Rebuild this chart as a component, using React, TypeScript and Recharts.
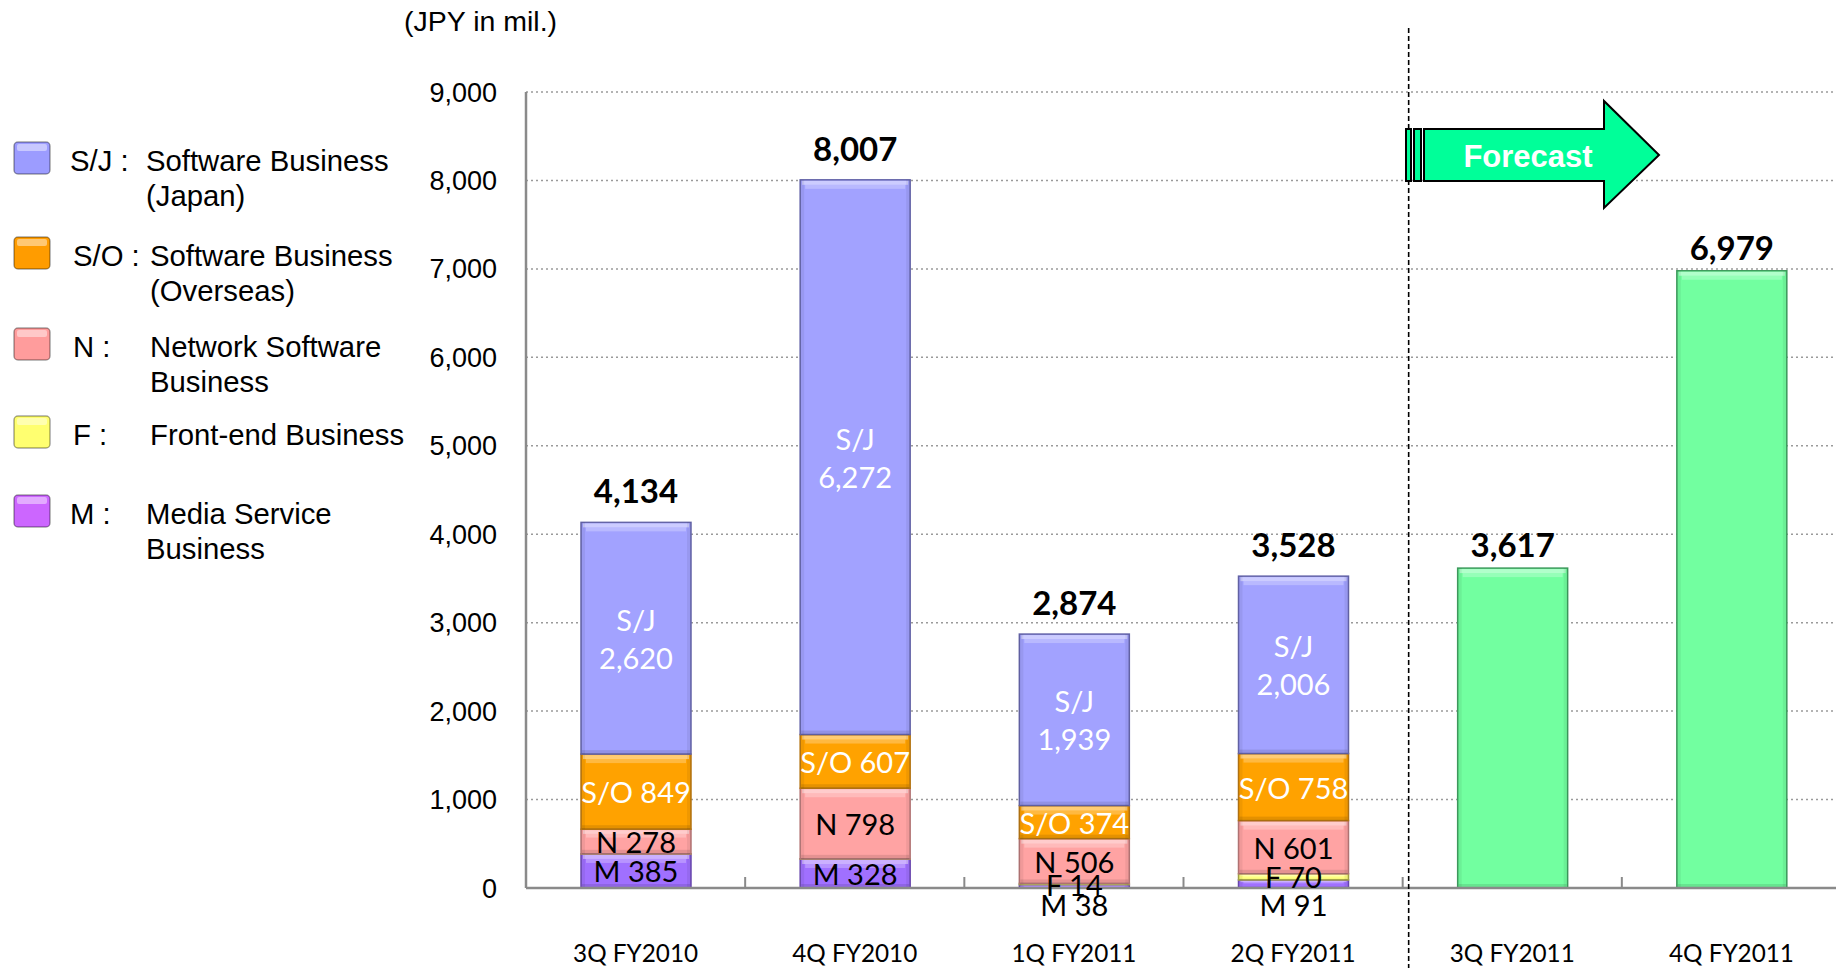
import React from "react";
import { Bar, BarChart, CartesianGrid, LabelList, XAxis, YAxis } from "recharts";

const categories = ["3Q FY2010", "4Q FY2010", "1Q FY2011", "2Q FY2011", "3Q FY2011", "4Q FY2011"];
const mediaService = [385, 328, 38, 91, null, null];
const frontEnd = [2, 2, 14, 70, null, null];
const network = [278, 798, 506, 601, null, null];
const softwareOverseas = [849, 607, 374, 758, null, null];
const softwareJapan = [2620, 6272, 1939, 2006, null, null];
const totals = [4134, 8007, 2874, 3528, null, null];
const forecast = [null, null, null, null, 3617, 6979];
const yTicks = [0, 1000, 2000, 3000, 4000, 5000, 6000, 7000, 8000, 9000];

const legendCodes = ["S/J :", "S/O :", "N :", "F :", "M :"];
const legendNames = [
  ["Software Business", "(Japan)"],
  ["Software Business", "(Overseas)"],
  ["Network Software", "Business"],
  ["Front-end Business"],
  ["Media Service", "Business"],
];

const chartData = categories.map((quarter, i) => ({
  quarter,
  m: mediaService[i],
  f: frontEnd[i],
  n: network[i],
  so: softwareOverseas[i],
  sj: softwareJapan[i],
  forecast: forecast[i],
}));

const W = 1836;
const H = 968;
const PLOT_LEFT = 526;
const PLOT_RIGHT_OVERFLOW = 5;
const PLOT_TOP = 92;
const X_AXIS_H = 80;
const PLOT_BOTTOM = H - X_AXIS_H;
const BAND = (W + PLOT_RIGHT_OVERFLOW - PLOT_LEFT) / categories.length;

const ARIAL = "'Liberation Sans', Arial, sans-serif";
const CALIBRI = "Lato, 'Noto Sans', sans-serif";

const COLORS = {
  sj: { fill: "#a2a2ff", stroke: "#6464a8" },
  so: { fill: "#ffa200", stroke: "#b47412" },
  n: { fill: "#ffa3a3", stroke: "#b47676" },
  f: { fill: "#ffff80", stroke: "#a6a646" },
  m: { fill: "#a070ff", stroke: "#6a48b0" },
  forecast: { fill: "#72ffa0", stroke: "#3f9c5e" },
};

const LEGEND_COLORS = ["#9c9cff", "#ff9c00", "#ff9c9c", "#ffff70", "#cc66ff"];

const fmt = (v: number) => v.toLocaleString("en-US");

function bevelShape(fill: string, stroke: string) {
  return (p: any) => {
    const { x, y, width, height } = p;
    if (!height || height <= 0) return <g />;
    const hl = Math.min(8, height * 0.3);
    const sh = Math.min(4, height * 0.2);
    return (
      <g>
        <rect x={x} y={y} width={width} height={height} fill={fill} stroke={stroke} strokeWidth={1.5} />
        <rect x={x + 2} y={y + 1} width={width - 4} height={hl * 0.5} fill="#ffffff" opacity={0.45} />
        <rect x={x + 5} y={y + 1 + hl * 0.5} width={width - 10} height={hl * 0.5} fill="#ffffff" opacity={0.25} />
        <rect x={x + 1} y={y + height - sh} width={width - 2} height={sh} fill="#000000" opacity={0.1} />
        <rect x={x} y={y} width={4} height={height} fill="#000000" opacity={0.06} />
        <rect x={x + width - 4} y={y} width={4} height={height} fill="#000000" opacity={0.06} />
      </g>
    );
  };
}

const labelText = (x: number, y: number, text: string, color: string, size = 29, bold = false) => (
  <text
    x={x}
    y={y}
    textAnchor="middle"
    dominantBaseline="central"
    fill={color}
    fontFamily={CALIBRI}
    fontSize={size}
    fontWeight={bold ? 700 : 400}
  >
    {text}
  </text>
);

function segmentLabel(prefix: string, color: string, minValue = 0) {
  return (p: any) => {
    const { x, y, width, height, value } = p;
    if (value == null || value < minValue) return null;
    return labelText(x + width / 2, y + height / 2, `${prefix} ${fmt(value)}`, color);
  };
}

const mediaLabel = (p: any) => {
  const { x, y, width, height, value } = p;
  if (value == null) return null;
  const cy = height < 20 ? y + height + 16 : y + height / 2;
  return labelText(x + width / 2, cy, `M ${fmt(value)}`, "#000");
};

const japanLabel = (p: any) => {
  const { x, y, width, height, value, index } = p;
  if (value == null) return null;
  const cx = x + width / 2;
  const cy = y + height / 2;
  return (
    <g>
      {labelText(cx, cy - 19, "S/J", "#fff")}
      {labelText(cx, cy + 19, fmt(value), "#fff")}
      {totals[index] != null && labelText(cx, y - 32, fmt(totals[index] as number), "#000", 33, true)}
    </g>
  );
};

const forecastLabel = (p: any) => {
  const { x, y, width, value } = p;
  if (value == null) return null;
  return labelText(x + width / 2, y - 24, fmt(value), "#000", 33, true);
};

function Overlay() {
  const sepX = PLOT_LEFT + BAND * 4 + 6;
  const rowY = [158, 253, 344, 432, 511];
  const codeX = [70, 73, 73, 73, 70];
  const nameX = [146, 150, 150, 150, 146];
  return (
    <svg width={W} height={H} style={{ position: "absolute", left: 0, top: 0, pointerEvents: "none" }}>
      <text x={404} y={21} dominantBaseline="central" fontFamily={ARIAL} fontSize={28.5} fill="#000">
        (JPY in mil.)
      </text>
      {legendCodes.map((code, i) => (
        <g key={code}>
          <rect x={14} y={rowY[i] - 16} width={36} height={32} rx={4} fill={LEGEND_COLORS[i]} stroke="rgba(0,0,0,0.35)" strokeWidth={1.5} />
          <rect x={17} y={rowY[i] - 14} width={30} height={7} rx={2} fill="#fff" opacity={0.45} />
          <text x={codeX[i]} y={rowY[i] + 2} dominantBaseline="central" fontFamily={ARIAL} fontSize={29.3} fill="#000">
            {code}
          </text>
          {legendNames[i].map((line, j) => (
            <text
              key={line}
              x={nameX[i]}
              y={rowY[i] + 2 + j * 35}
              dominantBaseline="central"
              fontFamily={ARIAL}
              fontSize={29.3}
              fill="#000"
            >
              {line}
            </text>
          ))}
        </g>
      ))}
      {[1, 2, 3, 4, 5].map((i) => (
        <line key={i} x1={PLOT_LEFT + BAND * i} x2={PLOT_LEFT + BAND * i} y1={PLOT_BOTTOM} y2={PLOT_BOTTOM - 11} stroke="#8a8a8a" strokeWidth={2} />
      ))}
      <line x1={sepX} x2={sepX} y1={28} y2={H} stroke="#000" strokeWidth={1.6} strokeDasharray="5 3" />
      <rect x={1406} y={129} width={5} height={52} fill="#00ff99" stroke="#000" strokeWidth={2} />
      <rect x={1414} y={129} width={7} height={52} fill="#00ff99" stroke="#000" strokeWidth={2} />
      <polygon
        points="1424,129 1604,129 1604,101 1659,155 1604,208 1604,181 1424,181"
        fill="#00ff99"
        stroke="#000"
        strokeWidth={2}
        strokeLinejoin="miter"
      />
      <text x={1528} y={156} textAnchor="middle" dominantBaseline="central" fontFamily={ARIAL} fontSize={31} fontWeight={700} fill="#fff">
        Forecast
      </text>
    </svg>
  );
}

export default function App() {
  return (
    <div style={{ position: "relative", width: W, height: H, background: "#fff", overflow: "hidden" }}>
      <style>{"body{margin:0}"}</style>
      <BarChart
        width={W}
        height={H}
        data={chartData}
        margin={{ top: PLOT_TOP, right: -PLOT_RIGHT_OVERFLOW, left: PLOT_LEFT - 80, bottom: 0 }}
      >
        <CartesianGrid vertical={false} stroke="#9a9a9a" strokeDasharray="2 3" strokeWidth={1.5} />
        <XAxis
          dataKey="quarter"
          height={X_AXIS_H}
          tickLine={false}
          tickSize={0}
          tickMargin={57}
          axisLine={{ stroke: "#8a8a8a", strokeWidth: 2.5 }}
          tick={{ fill: "#000", fontSize: 24.3, fontFamily: CALIBRI }}
          interval={0}
        />
        <YAxis
          width={80}
          domain={[0, 9000]}
          ticks={yTicks}
          tickFormatter={(v) => fmt(v)}
          tickLine={false}
          tickSize={0}
          tickMargin={29}
          axisLine={{ stroke: "#8a8a8a", strokeWidth: 2.5 }}
          tick={{ fill: "#000", fontSize: 27, fontFamily: ARIAL }}
          allowDataOverflow
        />
        <Bar dataKey="m" stackId="a" barSize={110} isAnimationActive={false} shape={bevelShape(COLORS.m.fill, COLORS.m.stroke)}>
          <LabelList dataKey="m" content={mediaLabel} />
        </Bar>
        <Bar dataKey="f" stackId="a" barSize={110} isAnimationActive={false} shape={bevelShape(COLORS.f.fill, COLORS.f.stroke)}>
          <LabelList dataKey="f" content={segmentLabel("F", "#000", 10)} />
        </Bar>
        <Bar dataKey="n" stackId="a" barSize={110} isAnimationActive={false} shape={bevelShape(COLORS.n.fill, COLORS.n.stroke)}>
          <LabelList dataKey="n" content={segmentLabel("N", "#000")} />
        </Bar>
        <Bar dataKey="so" stackId="a" barSize={110} isAnimationActive={false} shape={bevelShape(COLORS.so.fill, COLORS.so.stroke)}>
          <LabelList dataKey="so" content={segmentLabel("S/O", "#fff")} />
        </Bar>
        <Bar dataKey="sj" stackId="a" barSize={110} isAnimationActive={false} shape={bevelShape(COLORS.sj.fill, COLORS.sj.stroke)}>
          <LabelList dataKey="sj" content={japanLabel} />
        </Bar>
        <Bar dataKey="forecast" stackId="a" barSize={110} isAnimationActive={false} shape={bevelShape(COLORS.forecast.fill, COLORS.forecast.stroke)}>
          <LabelList dataKey="forecast" content={forecastLabel} />
        </Bar>
      </BarChart>
      <Overlay />
    </div>
  );
}
